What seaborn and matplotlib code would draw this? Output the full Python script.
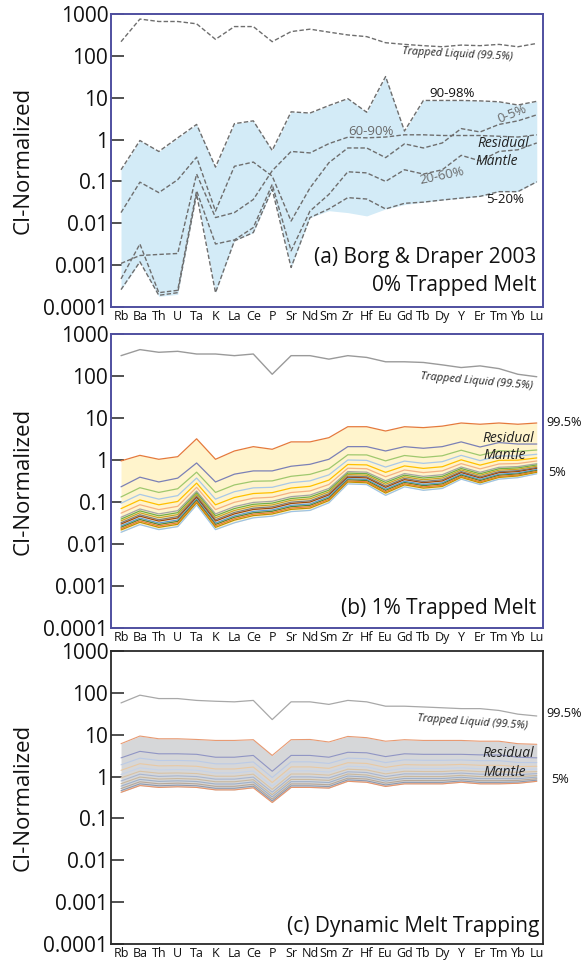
import numpy as np
import pandas as pd
import matplotlib
matplotlib.use("Agg")
import matplotlib.pyplot as plt
import seaborn as sns

sns.set_theme(style="white")
plt.rcParams["font.family"] = ["Open Sans", "DejaVu Sans"]

elements = ["Rb", "Ba", "Th", "U", "Ta", "K", "La", "Ce", "P", "Sr", "Nd", "Sm",
            "Zr", "Hf", "Eu", "Gd", "Tb", "Dy", "Y", "Er", "Tm", "Yb", "Lu"]
ytick_vals = [1e-4, 1e-3, 1e-2, 1e-1, 1, 10, 100, 1000]
ytick_labels = ["0.0001", "0.001", "0.01", "0.1", "1", "10", "100", "1000"]

# ---- (a) Borg & Draper 2003, 0% trapped melt ----
a_trapped = [218, 757, 662, 662, 583, 248, 501, 501, 218, 380, 434, 369, 316,
             288, 206, 188, 175, 165, 181, 175, 188, 165, 198]
a_90_98 = [0.19, 0.95, 0.52, 1.1, 2.3, 0.22, 2.4, 2.8, 0.55, 4.6, 4.3, 6.5, 9.5,
           4.5, 32, 1.6, 8.6, 8.6, 8.6, 8.4, 8.0, 6.7, 8.2]
a_0_5 = [0.018, 0.096, 0.054, 0.11, 0.38, 0.0196, 0.23, 0.29, 0.134, 0.0113, 0.07,
         0.28, 0.63, 0.63, 0.37, 0.79, 0.63, 0.83, 1.83, 1.52, 2.3, 2.8, 3.9]
a_60_90 = [0.0011, 0.0017, 0.0018, 0.0019, 0.15, 0.0137, 0.018, 0.037, 0.18, 0.52,
           0.48, 0.8, 1.14, 1.1, 1.15, 1.3, 1.3, 1.25, 1.25, 1.25, 1.2, 1.15, 1.3]
a_20_60 = [0.00047, 0.0032, 0.00022, 0.00025, 0.06, 0.0032, 0.004, 0.0079, 0.085,
           0.0022, 0.0196, 0.049, 0.17, 0.16, 0.10, 0.19, 0.15, 0.19, 0.42, 0.31,
           0.52, 0.57, 0.83]
a_5_20 = [0.00026, 0.0012, 0.00019, 0.00022, 0.05, 0.00022, 0.0038, 0.006, 0.065,
          0.00088, 0.0137, 0.022, 0.041, 0.038, 0.022, 0.030, 0.032, 0.036, 0.040,
          0.044, 0.057, 0.057, 0.098]
a_band_low = [0.00026, 0.0012, 0.00018, 0.0002, 0.05, 0.00022, 0.0038, 0.006, 0.065,
              0.00088, 0.0137, 0.02, 0.018, 0.015, 0.022, 0.028, 0.032, 0.036, 0.040,
              0.044, 0.057, 0.057, 0.098]

# ---- (b) 1% trapped melt ----
b_trapped = [305, 425, 367, 387, 334, 334, 305, 334, 110, 305, 305, 252, 305, 277,
             218, 218, 210, 184, 159, 174, 150, 110, 96]
b_lines = [
    [0.95, 1.29, 1.04, 1.2, 3.2, 1.04, 1.64, 2.08, 1.8, 2.7, 2.7, 3.4, 6.2, 6.2, 4.9,
     6.2, 5.9, 6.4, 7.6, 7.1, 7.6, 7.1, 7.6],
    [0.23, 0.39, 0.30, 0.37, 0.85, 0.30, 0.46, 0.55, 0.55, 0.71, 0.79, 1.04, 2.08, 2.08,
     1.64, 2.08, 1.9, 2.08, 2.7, 2.04, 2.6, 2.4, 2.4],
    [0.132, 0.219, 0.169, 0.207, 0.513, 0.169, 0.255, 0.312, 0.318, 0.409, 0.455, 0.618,
     1.33, 1.32, 0.953, 1.28, 1.15, 1.26, 1.71, 1.29, 1.66, 1.60, 1.73],
    [0.0935, 0.152, 0.117, 0.142, 0.372, 0.117, 0.176, 0.217, 0.224, 0.289, 0.319, 0.443,
     1.00, 0.98, 0.679, 0.942, 0.832, 0.912, 1.29, 0.968, 1.25, 1.24, 1.37],
    [0.0695, 0.112, 0.0857, 0.103, 0.282, 0.0857, 0.128, 0.159, 0.167, 0.215, 0.236,
     0.332, 0.782, 0.764, 0.508, 0.723, 0.631, 0.692, 1.01, 0.755, 0.982, 0.991, 1.12],
    [0.0542, 0.0861, 0.0659, 0.0789, 0.224, 0.0659, 0.0984, 0.123, 0.130, 0.168, 0.183,
     0.261, 0.637, 0.619, 0.399, 0.579, 0.501, 0.550, 0.820, 0.614, 0.804, 0.824, 0.948],
    [0.0433, 0.0681, 0.0520, 0.0621, 0.182, 0.0520, 0.0776, 0.0977, 0.104, 0.134, 0.146,
     0.210, 0.530, 0.513, 0.321, 0.475, 0.407, 0.447, 0.682, 0.509, 0.671, 0.698, 0.815],
    [0.0392, 0.0614, 0.0469, 0.0557, 0.166, 0.0469, 0.0698, 0.0881, 0.0940, 0.121, 0.132,
     0.191, 0.488, 0.472, 0.292, 0.435, 0.372, 0.407, 0.628, 0.469, 0.619, 0.649, 0.762],
    [0.0355, 0.0553, 0.0422, 0.0501, 0.151, 0.0422, 0.0628, 0.0794, 0.0851, 0.110, 0.119,
     0.174, 0.450, 0.435, 0.265, 0.398, 0.339, 0.372, 0.579, 0.432, 0.573, 0.603, 0.713],
    [0.0321, 0.0498, 0.0379, 0.0451, 0.138, 0.0379, 0.0565, 0.0716, 0.0771, 0.0993,
     0.107, 0.158, 0.414, 0.399, 0.240, 0.365, 0.309, 0.339, 0.533, 0.397, 0.528, 0.560,
     0.665],
    [0.0298, 0.0460, 0.0351, 0.0416, 0.129, 0.0351, 0.0521, 0.0664, 0.0714, 0.0920,
     0.0995, 0.147, 0.389, 0.375, 0.223, 0.341, 0.288, 0.316, 0.501, 0.373, 0.498, 0.530,
     0.632],
    [0.0270, 0.0415, 0.0316, 0.0373, 0.117, 0.0316, 0.0469, 0.0598, 0.0647, 0.0834,
     0.0899, 0.134, 0.359, 0.344, 0.203, 0.312, 0.263, 0.288, 0.462, 0.344, 0.459, 0.492,
     0.592],
    [0.0251, 0.0384, 0.0292, 0.0345, 0.110, 0.0292, 0.0434, 0.0553, 0.0601, 0.0774,
     0.0834, 0.124, 0.337, 0.324, 0.189, 0.292, 0.245, 0.269, 0.435, 0.323, 0.433, 0.466,
     0.562],
    [0.0232, 0.0355, 0.0270, 0.0318, 0.102, 0.0270, 0.0400, 0.0513, 0.0557, 0.0718,
     0.0773, 0.116, 0.317, 0.304, 0.175, 0.274, 0.229, 0.251, 0.408, 0.303, 0.407, 0.441,
     0.535],
    [0.0216, 0.0329, 0.0249, 0.0294, 0.0955, 0.0249, 0.0370, 0.0474, 0.0518, 0.0667,
     0.0716, 0.108, 0.299, 0.286, 0.163, 0.256, 0.214, 0.234, 0.385, 0.285, 0.384, 0.417,
     0.509],
    [0.019, 0.029, 0.022, 0.026, 0.085, 0.022, 0.032, 0.042, 0.046, 0.059, 0.063, 0.096,
     0.27, 0.26, 0.144, 0.23, 0.19, 0.21, 0.35, 0.26, 0.35, 0.38, 0.47],
]
b_colors = ["#e57a3c", "#7b80b6", "#9fc86e", "#a9c8e8", "#ffc000", "#f4b183",
            "#a5a5a5", "#70ad47", "#c9a227", "#7f7f7f", "#9e480e", "#5b9bd5",
            "#548235", "#ed7d31", "#bf9000", "#9dc3e6"]

# ---- (c) dynamic melt trapping ----
c_trapped = [57.5, 88, 73, 73, 66, 63, 61, 66, 23, 61, 61, 53, 66, 61, 48, 48, 46, 44,
             42, 42, 38, 31, 28]
c_lines = [
    [6.1, 9.3, 8.0, 8.0, 7.7, 7.3, 7.3, 7.6, 3.2, 7.6, 7.7, 6.7, 9.1, 8.5, 7.0, 7.6, 7.3,
     7.3, 7.3, 7.0, 7.0, 6.1, 5.9],
    [2.8, 4.0, 3.5, 3.5, 3.4, 2.9, 2.9, 3.2, 1.34, 3.2, 3.2, 2.9, 3.8, 3.7, 3.0, 3.5, 3.4,
     3.4, 3.4, 3.3, 3.3, 2.9, 2.8],
    [1.91, 2.75, 2.42, 2.43, 2.36, 2.02, 2.02, 2.24, 0.95, 2.25, 2.25, 2.06, 2.76, 2.67,
     2.16, 2.51, 2.45, 2.45, 2.49, 2.40, 2.40, 2.17, 2.16],
    [1.41, 2.03, 1.80, 1.82, 1.76, 1.52, 1.52, 1.69, 0.721, 1.70, 1.70, 1.57, 2.14, 2.06,
     1.66, 1.93, 1.89, 1.89, 1.95, 1.86, 1.86, 1.73, 1.76],
    [1.12, 1.62, 1.44, 1.47, 1.42, 1.22, 1.22, 1.36, 0.586, 1.37, 1.37, 1.28, 1.77, 1.70,
     1.36, 1.58, 1.56, 1.56, 1.62, 1.53, 1.53, 1.46, 1.51],
    [0.931, 1.34, 1.20, 1.22, 1.18, 1.02, 1.02, 1.14, 0.494, 1.15, 1.15, 1.08, 1.50, 1.44,
     1.16, 1.34, 1.32, 1.32, 1.39, 1.31, 1.31, 1.26, 1.32],
    [0.785, 1.14, 1.01, 1.04, 1.00, 0.869, 0.869, 0.971, 0.424, 0.982, 0.982, 0.929, 1.30,
     1.25, 1.00, 1.16, 1.15, 1.15, 1.21, 1.14, 1.14, 1.11, 1.18],
    [0.675, 0.975, 0.873, 0.897, 0.867, 0.752, 0.752, 0.841, 0.369, 0.853, 0.853, 0.811,
     1.15, 1.09, 0.875, 1.01, 1.00, 1.00, 1.07, 0.998, 0.998, 0.989, 1.06],
    [0.590, 0.855, 0.767, 0.791, 0.762, 0.664, 0.664, 0.743, 0.327, 0.755, 0.755, 0.719,
     1.03, 0.977, 0.780, 0.902, 0.898, 0.898, 0.962, 0.893, 0.893, 0.893, 0.970],
    [0.518, 0.750, 0.673, 0.697, 0.671, 0.585, 0.585, 0.656, 0.290, 0.667, 0.667, 0.638,
     0.916, 0.873, 0.695, 0.804, 0.802, 0.802, 0.863, 0.798, 0.798, 0.809, 0.887],
    [0.461, 0.670, 0.603, 0.624, 0.603, 0.525, 0.525, 0.590, 0.261, 0.600, 0.600, 0.577,
     0.834, 0.791, 0.630, 0.728, 0.726, 0.726, 0.787, 0.726, 0.726, 0.741, 0.820],
    [0.42, 0.61, 0.55, 0.57, 0.55, 0.48, 0.48, 0.54, 0.24, 0.55, 0.55, 0.53, 0.77, 0.73,
     0.58, 0.67, 0.67, 0.67, 0.73, 0.67, 0.67, 0.69, 0.77],
]
c_colors = ["#e89a72", "#9095c4", "#bccbe6", "#e9c9a3", "#c6d3e8", "#d9c3a5", "#a9b6cf",
            "#c9b89e", "#9fb0c8", "#b7a898", "#8d9ab0", "#e6946a"]

pos = np.arange(len(elements))
W, H = 581, 961
FRAME_BLUE = "#4f4fa0"
INK = "#111111"


def make_axes(top_px, bottom_px):
    return fig.add_axes([111 / W, 1 - bottom_px / H, 432 / W, (bottom_px - top_px) / H])


def style_axes(ax, frame_color, frame_lw):
    ax.set_yscale("log")
    ax.set_ylim(1e-4, 1e3)
    ax.set_xlim(-0.53, 22.33)
    ax.set_yticks(ytick_vals)
    ax.set_yticklabels(ytick_labels)
    ax.yaxis.set_minor_locator(matplotlib.ticker.NullLocator())
    ax.set_xticks(pos)
    ax.set_xticklabels(elements)
    ax.tick_params(axis="y", direction="in", length=9, width=1.1, color="#222222",
                   labelsize=15, pad=2, left=True, labelcolor=INK)
    ax.tick_params(axis="x", length=0, labelsize=9, pad=2.5, labelcolor=INK)
    ax.set_ylabel("CI-Normalized", fontsize=16, color=INK)
    ax.yaxis.set_label_coords(-0.178, 0.5)
    ax.set_xlabel("")
    for sp in ax.spines.values():
        sp.set_visible(True)
        sp.set_color(frame_color)
        sp.set_linewidth(frame_lw)
    ax.grid(False)


def draw_line(ax, values, color, lw, ls="-", alpha=1.0, z=3):
    df = pd.DataFrame({"element": pos, "value": values})
    sns.lineplot(data=df, x="element", y="value", ax=ax, color=color, lw=lw,
                 linestyle=ls, alpha=alpha, estimator=None, sort=False, zorder=z)


fig = plt.figure(figsize=(W / 100, H / 100), dpi=100)
ax_a = make_axes(14, 307)
ax_b = make_axes(334, 628)
ax_c = make_axes(651, 944)

# panel (a)
ax_a.fill_between(pos, a_band_low, a_90_98, color="#d3ebf7", lw=0, zorder=1)
dash = (0, (3.2, 1.6))
for series in [a_trapped, a_90_98, a_0_5, a_60_90, a_20_60, a_5_20]:
    draw_line(ax_a, series, "#6e6e6e", 1.0, ls=dash)
style_axes(ax_a, FRAME_BLUE, 1.4)
ax_a.text(17.8, 108, "Trapped Liquid (99.5%)", fontsize=7.8, style="italic",
          rotation=-3, ha="center", va="center", color="#222222")
ax_a.text(17.5, 12.6, "90-98%", fontsize=9.5, ha="center", va="center", color=INK)
ax_a.text(20.7, 4.0, "0-5%", fontsize=9.5, ha="center", va="center", color="#6a6a6a",
          rotation=22)
ax_a.text(13.2, 1.57, "60-90%", fontsize=9.5, ha="center", va="center", color="#6a6a6a")
ax_a.text(20.2, 0.81, "Residual", fontsize=10, style="italic", ha="center", va="center",
          color="#222222")
ax_a.text(19.9, 0.30, "Mantle", fontsize=10, style="italic", ha="center", va="center",
          color="#222222")
ax_a.text(17.0, 0.134, "20-60%", fontsize=9.5, ha="center", va="center", color="#6a6a6a",
          rotation=12)
ax_a.text(20.3, 0.038, "5-20%", fontsize=9.5, ha="center", va="center", color=INK)
ax_a.text(0.984, 0.15, "(a) Borg & Draper 2003", transform=ax_a.transAxes, fontsize=15,
          ha="right", va="baseline", color=INK)
ax_a.text(0.984, 0.055, "0% Trapped Melt", transform=ax_a.transAxes, fontsize=15,
          ha="right", va="baseline", color=INK)

# panel (b)
ax_b.fill_between(pos, b_lines[-1], b_lines[0], color="#fff4cc", lw=0, zorder=1)
draw_line(ax_b, b_trapped, "#9a9a9a", 1.0)
for series, col in zip(b_lines, b_colors):
    draw_line(ax_b, series, col, 0.9)
style_axes(ax_b, FRAME_BLUE, 1.4)
ax_b.text(18.8, 76, "Trapped Liquid (99.5%)", fontsize=8, style="italic", rotation=-5,
          ha="center", va="center", color="#222222")
ax_b.text(20.5, 3.3, "Residual", fontsize=10, style="italic", ha="center", va="center",
          color="#222222")
ax_b.text(20.3, 1.3, "Mantle", fontsize=10, style="italic", ha="center", va="center",
          color="#222222")
ax_b.text(1.007, 0.70, "99.5%", transform=ax_b.transAxes, fontsize=9.2, ha="left",
          va="center", color=INK)
ax_b.text(1.012, 0.53, "5%", transform=ax_b.transAxes, fontsize=9.2, ha="left",
          va="center", color=INK)
ax_b.text(0.984, 0.048, "(b) 1% Trapped Melt", transform=ax_b.transAxes, fontsize=15,
          ha="right", va="baseline", color=INK)

# panel (c)
ax_c.fill_between(pos, c_lines[-1], c_lines[0], color="#d6d7d9", lw=0, zorder=1)
draw_line(ax_c, c_trapped, "#a8a8a8", 0.9)
for series, col in zip(c_lines, c_colors):
    draw_line(ax_c, series, col, 0.8)
style_axes(ax_c, "#2a2a2a", 1.3)
ax_c.text(18.6, 19.7, "Trapped Liquid (99.5%)", fontsize=7.8, style="italic", rotation=-4,
          ha="center", va="center", color="#222222")
ax_c.text(20.5, 3.6, "Residual", fontsize=10, style="italic", ha="center", va="center",
          color="#222222")
ax_c.text(20.3, 1.25, "Mantle", fontsize=10, style="italic", ha="center", va="center",
          color="#222222")
ax_c.text(1.007, 0.788, "99.5%", transform=ax_c.transAxes, fontsize=9.2, ha="left",
          va="center", color=INK)
ax_c.text(1.02, 0.56, "5%", transform=ax_c.transAxes, fontsize=9.2, ha="left",
          va="center", color=INK)
ax_c.text(0.992, 0.04, "(c) Dynamic Melt Trapping", transform=ax_c.transAxes, fontsize=15,
          ha="right", va="baseline", color=INK)

for ax in (ax_a, ax_b, ax_c):
    leg = ax.get_legend()
    if leg is not None:
        leg.remove()

fig.savefig("out.png", dpi=100, facecolor="white")
